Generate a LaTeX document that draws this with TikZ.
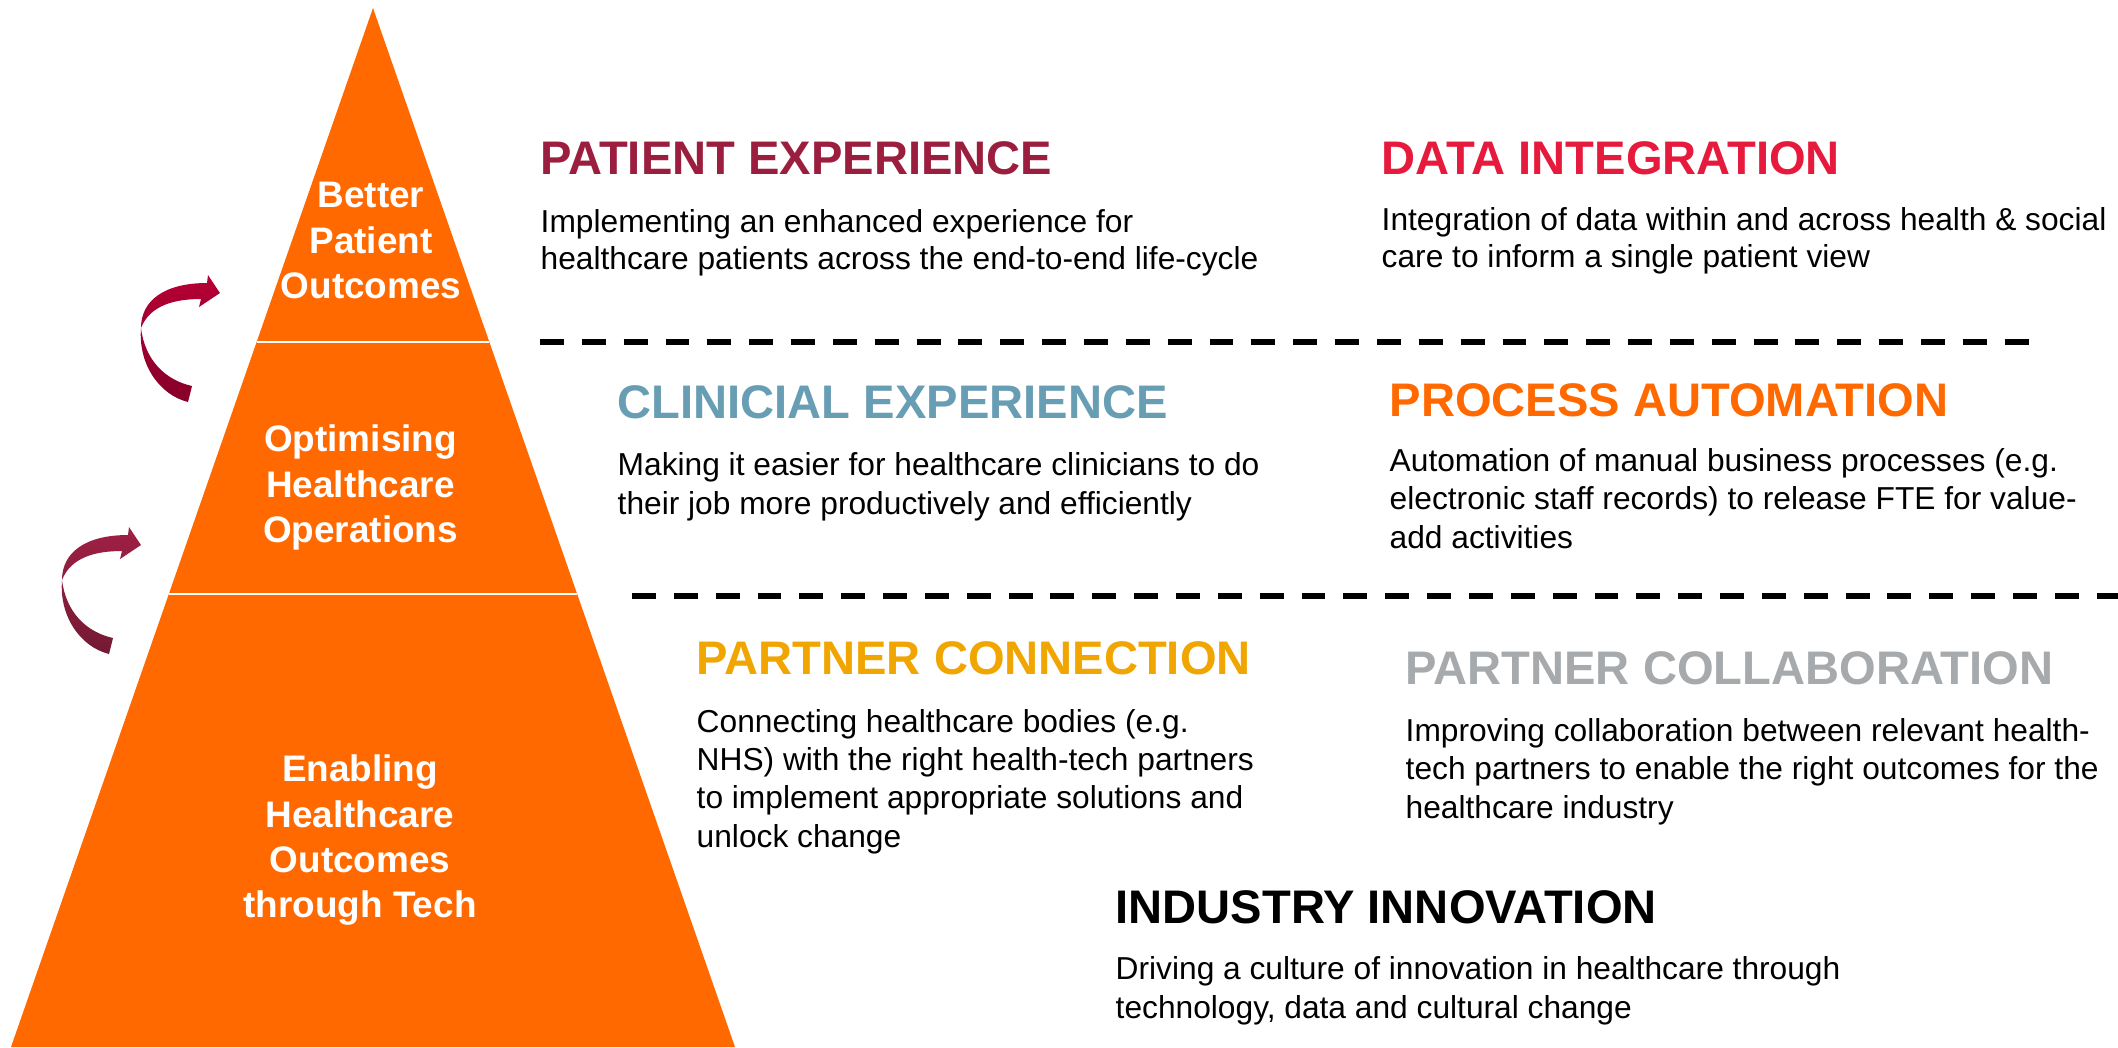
\documentclass[tikz,border=0pt]{standalone}
\usepackage{fontspec}
\setmainfont{Liberation Sans}
\usepackage{tikz}
\usetikzlibrary{calc}
\definecolor{pyrorange}{RGB}{255,105,0}
\definecolor{patientred}{RGB}{155,30,62}
\definecolor{datared}{RGB}{230,26,60}
\definecolor{clinblue}{RGB}{104,158,180}
\definecolor{procorange}{RGB}{255,105,0}
\definecolor{partgold}{RGB}{240,165,0}
\definecolor{collabgrey}{RGB}{166,170,173}
\definecolor{arrowtopA}{RGB}{182,0,52}
\definecolor{arrowbotA}{RGB}{135,0,42}
\definecolor{arrowtopB}{RGB}{160,32,68}
\definecolor{arrowbotB}{RGB}{115,26,52}
\tikzset{
  tierlabel/.style={text=white, font=\fontsize{10.5}{12.8}\selectfont\bfseries, align=center, inner sep=0pt, anchor=base},
  headline/.style={font=\fontsize{13.4}{16}\selectfont\bfseries, inner sep=0pt, anchor=base west},
  bodytext/.style={font=\fontsize{9.02}{10.9}\selectfont, align=left, inner sep=0pt, anchor=base west},
  tightbody/.style={bodytext, font=\fontsize{9.02}{10.4}\selectfont},
  divider/.style={line width=1.7pt, dash pattern=on 6.8pt off 5.1pt},
  curvearrow/.pic={
    \path[pic actions] (0,0) .. controls (0,-28) and (24,-45) .. (66,-45)
      -- (67,-53) -- (79,-35) -- (58,-21) -- (60,-29)
      .. controls (34,-29) and (9,-23) .. (0,0)
      .. controls (4,32) and (24,52) .. (51,58)
      -- (47,74)
      .. controls (19,67) and (-3,37) .. (0,0) -- cycle;
  }
}
\begin{document}
\begin{tikzpicture}[x=0.01cm, y=-0.01cm]
\useasboundingbox (0,0) rectangle (2118,1047);

\coordinate (apex) at (373,8);
\coordinate (baseL) at (11,1047);
\coordinate (baseR) at (735,1047);
\fill[pyrorange] (apex) -- (baseR) -- (baseL) -- cycle;
\draw[white, line width=0.8pt] ($(apex)!0.3215!(baseL)$) -- ($(apex)!0.3215!(baseR)$);
\draw[white, line width=0.8pt] ($(apex)!0.564!(baseL)$) -- ($(apex)!0.564!(baseR)$);

\node[tierlabel] (tierTop) at (371,298) {Better\\Patient\\Outcomes};
\node[tierlabel] (tierMid) at (360.5,542) {Optimising\\Healthcare\\Operations};
\node[tierlabel] (tierBase) at (360,917) {Enabling\\Healthcare\\Outcomes\\through Tech};

\pic[top color=arrowtopA, bottom color=arrowbotA] (arrowUp) at (141,328) {curvearrow};
\pic[top color=arrowtopB, bottom color=arrowbotB] (arrowLow) at (62,580) {curvearrow};

\node[headline, text=patientred] (hPatient) at (540,174) {PATIENT EXPERIENCE};
\node[tightbody] (bPatient) at (540,269.5) {Implementing an enhanced experience for\\healthcare patients across the end-to-end life-cycle};
\node[headline, text=datared] (hData) at (1381,174) {DATA INTEGRATION};
\node[tightbody] (bData) at (1381,267.5) {Integration of data within and across health \& social\\care to inform a single patient view};

\coordinate (sepA1) at (540,342);
\coordinate (sepA2) at (2032,342);
\draw[divider] (sepA1) -- (sepA2);

\node[headline, text=clinblue] (hClinical) at (617,418) {CLINICIAL EXPERIENCE};
\node[bodytext] (bClinical) at (617,514) {Making it easier for healthcare clinicians to do\\their job more productively and efficiently};
\node[headline, text=procorange] (hProcess) at (1389,416) {PROCESS AUTOMATION};
\node[bodytext] (bProcess) at (1389,548) {Automation of manual business processes (e.g.\\electronic staff records) to release FTE for value-\\add activities};

\coordinate (sepB1) at (632,596);
\coordinate (sepB2) at (2118,596);
\draw[divider] (sepB1) -- (sepB2);

\node[headline, text=partgold] (hPartnerConn) at (696,674) {PARTNER CONNECTION};
\node[bodytext] (bPartnerConn) at (696,847) {Connecting healthcare bodies (e.g.\\NHS) with the right health-tech partners\\to implement appropriate solutions and\\unlock change};
\node[headline, text=collabgrey] (hPartnerCollab) at (1405,684) {PARTNER COLLABORATION};
\node[bodytext] (bPartnerCollab) at (1405,818) {Improving collaboration between relevant health-\\tech partners to enable the right outcomes for the\\healthcare industry};

\node[headline] (hIndustry) at (1115,923) {INDUSTRY INNOVATION};
\node[bodytext] (bIndustry) at (1115,1018) {Driving a culture of innovation in healthcare through\\technology, data and cultural change};
\end{tikzpicture}
\end{document}
